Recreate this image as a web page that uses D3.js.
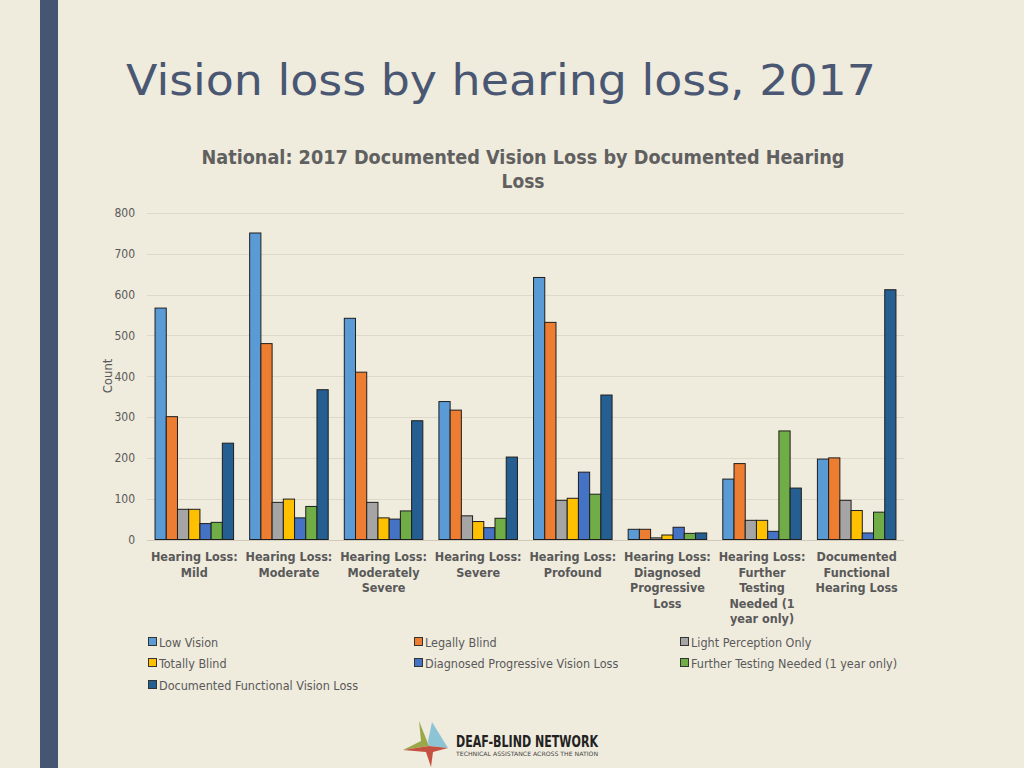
<!DOCTYPE html>
<html><head><meta charset="utf-8">
<script src="https://cdn.jsdelivr.net/npm/d3@7"></script>
<style>
html,body{margin:0;padding:0;background:#efebdd;}
svg{display:block;}
</style></head>
<body>
<svg id="c" width="1024" height="768"></svg>
<script>
const categories = [
  ["Hearing Loss:","Mild"],
  ["Hearing Loss:","Moderate"],
  ["Hearing Loss:","Moderately","Severe"],
  ["Hearing Loss:","Severe"],
  ["Hearing Loss:","Profound"],
  ["Hearing Loss:","Diagnosed","Progressive","Loss"],
  ["Hearing Loss:","Further","Testing","Needed (1","year only)"],
  ["Documented","Functional","Hearing Loss"]
];
const seriesNames = ["Low Vision","Legally Blind","Light Perception Only","Totally Blind","Diagnosed Progressive Vision Loss","Further Testing Needed (1 year only)","Documented Functional Vision Loss"];
const seriesColors = ["#5b9bd5","#ed7d31","#a5a5a5","#ffc000","#4472c4","#70ad47","#255e91"];
const lowVision      = [567,751,542,338,642,25,148,197];
const legallyBlind   = [301,480,410,317,532,25,186,200];
const lightPerception= [74,91,91,58,96,4,47,96];
const totallyBlind   = [74,99,53,44,101,11,47,71];
const diagProgVision = [39,53,50,29,165,30,20,16];
const furtherTesting = [42,81,70,52,111,15,266,67];
const docFunctional  = [236,367,291,202,354,16,126,612];
const yTicks = [0,100,200,300,400,500,600,700,800];
const series = [lowVision,legallyBlind,lightPerception,totallyBlind,diagProgVision,furtherTesting,docFunctional];

const svg = d3.select("#c");
const FONT = "'DejaVu Sans Condensed','DejaVu Sans',sans-serif";

// left band
svg.append("rect").attr("x",40).attr("y",0).attr("width",18).attr("height",768).attr("fill","#465571");

// slide title
svg.append("text").attr("x",126).attr("y",95).attr("font-family","'DejaVu Sans',sans-serif")
  .attr("font-size",43).attr("fill","#4a5773").attr("textLength",750).attr("lengthAdjust","spacingAndGlyphs")
  .text("Vision loss by hearing loss, 2017");

// chart title
const ct = svg.append("text").attr("font-family",FONT).attr("font-weight","bold").attr("font-size",19).attr("fill","#606060").attr("text-anchor","middle");
ct.append("tspan").attr("x",523).attr("y",164).attr("textLength",643).attr("lengthAdjust","spacingAndGlyphs").text("National: 2017 Documented Vision Loss by Documented Hearing");
ct.append("tspan").attr("x",523).attr("y",188).text("Loss");

const y = d3.scaleLinear().domain([0,800]).range([539.5,213]);
const x0 = d3.scaleBand().domain(d3.range(categories.length)).range([147,904]).paddingInner(0.17).paddingOuter(0.085);
const x1 = d3.scaleBand().domain(d3.range(series.length)).range([0,x0.bandwidth()]);

// gridlines
svg.append("g").selectAll("line").data(yTicks).join("line")
  .attr("x1",147).attr("x2",904).attr("y1",d=>Math.round(y(d))+0.5).attr("y2",d=>Math.round(y(d))+0.5)
  .attr("stroke",d=>d===0?"#cfcabb":"#dcd8ca").attr("stroke-width",1);

// y axis labels
const yAxis = d3.axisLeft(y).tickValues(yTicks).tickSize(0).tickPadding(0);
const ya = svg.append("g").attr("transform","translate(135,0)").call(yAxis);
ya.select(".domain").remove();
ya.selectAll("text").attr("font-family",FONT).attr("font-size",12).attr("fill","#595959").attr("dy","0.32em");

// y axis title
svg.append("text").attr("transform","translate(112,376) rotate(-90)").attr("text-anchor","middle")
  .attr("font-family",FONT).attr("font-size",13).attr("fill","#595959").text("Count");

// bars
const g = svg.append("g");
categories.forEach((c,i)=>{
  series.forEach((s,j)=>{
    g.append("rect")
      .attr("x",x0(i)+x1(j)).attr("y",y(s[i])).attr("width",x1.bandwidth()).attr("height",y(0)-y(s[i]))
      .attr("fill",seriesColors[j]).attr("stroke","#1e1e1e").attr("stroke-width",1);
  });
});

// category labels
categories.forEach((c,i)=>{
  const t = svg.append("text").attr("font-family",FONT).attr("font-weight","bold").attr("font-size",12.5)
    .attr("fill","#595959").attr("text-anchor","middle");
  c.forEach((line,k)=>{
    t.append("tspan").attr("x",x0(i)+x0.bandwidth()/2).attr("y",561+k*15.6).text(line);
  });
});

// legend
const legX=[148,414,680], legY=[642,663,685];
seriesNames.forEach((n,j)=>{
  const lx = legX[j%3], ly = legY[Math.floor(j/3)];
  svg.append("rect").attr("x",lx+0.5).attr("y",ly-4.5).attr("width",8).attr("height",8)
    .attr("fill",seriesColors[j]).attr("stroke","#333").attr("stroke-width",1);
  svg.append("text").attr("x",lx+11).attr("y",ly+4.5).attr("font-family",FONT).attr("font-size",12.5)
    .attr("fill","#595959").text(n);
});

// logo
const logo = svg.append("g");
logo.append("path").attr("d","M419,721 L429,746 L403,750 L421,741 Z").attr("fill","#9aa84a");
logo.append("path").attr("d","M432,722 L448,748 L429,746 L428,741 Z").attr("fill","#8cc4d6");
logo.append("path").attr("d","M403,750 L429,746 L448,748 L433,752 L431,767 L426,752 Z").attr("fill","#c4513f");
svg.append("text").attr("x",456).attr("y",747).attr("font-family",FONT).attr("font-weight","bold")
  .attr("font-size",16).attr("fill","#222").attr("textLength",142).attr("lengthAdjust","spacingAndGlyphs").text("DEAF-BLIND  NETWORK");
svg.append("text").attr("x",456).attr("y",756).attr("font-family","'DejaVu Sans',sans-serif")
  .attr("font-size",6).attr("fill","#444").attr("textLength",142).attr("lengthAdjust","spacingAndGlyphs").text("TECHNICAL ASSISTANCE ACROSS THE NATION");
</script>
</body></html>
